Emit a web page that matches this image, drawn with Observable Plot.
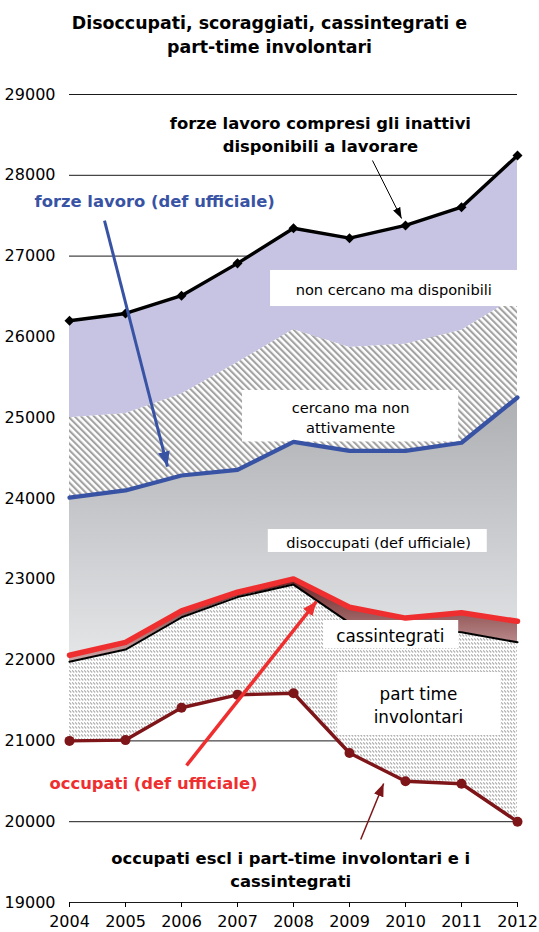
<!DOCTYPE html>
<html>
<head>
<meta charset="utf-8">
<script src="https://cdn.jsdelivr.net/npm/d3@7"></script>
<script src="https://cdn.jsdelivr.net/npm/@observablehq/plot@0.6"></script>
<style>
  html, body { margin: 0; padding: 0; background: #fff; }
  #title { height: 70px; box-sizing: border-box; padding-top: 11px; text-align: center;
    font-family: "DejaVu Sans", Verdana, sans-serif; font-weight: bold; font-size: 17.4px; line-height: 24px; color: #000; width: 539px; }
  #chart svg { display: block; }
</style>
</head>
<body>
<div id="title">Disoccupati, scoraggiati, cassintegrati e<br>part-time involontari</div>
<div id="chart"></div>
<script>
// ---- data (thousands of persons) ----
const years = [2004, 2005, 2006, 2007, 2008, 2009, 2010, 2011, 2012];
const forzeInattivi = [26200, 26290, 26510, 26910, 27345, 27222, 27380, 27605, 28245]; // forze lavoro compresi inattivi disponibili
const scoraggiatiTop = [25000, 25050, 25290, 25680, 26090, 25870, 25910, 26080, 26500]; // + cercano ma non attivamente
const forzeLavoro = [24010, 24100, 24285, 24355, 24700, 24590, 24590, 24690, 25250];   // forze lavoro (def ufficiale)
const occupati = [22060, 22220, 22610, 22840, 23005, 22655, 22520, 22585, 22480];      // occupati (def ufficiale)
const occupatiNoCig = [21980, 22130, 22530, 22780, 22935, 22460, 22390, 22345, 22220]; // occupati escl cassintegrati
const occupatiEscl = [21000, 21010, 21410, 21570, 21590, 20850, 20500, 20470, 20000];  // escl part-time involontari e cig
const yTicks = [19000, 20000, 21000, 22000, 23000, 24000, 25000, 26000, 27000, 28000, 29000];
const xTicks = years;

const data = years.map((year, i) => ({
  year, fi: forzeInattivi[i], st: scoraggiatiTop[i], fl: forzeLavoro[i],
  oc: occupati[i], onc: occupatiNoCig[i], oe: occupatiEscl[i]
}));

const BLUE = "#3953a4", RED = "#ef2f2f", DARKRED = "#7e1518";

// annotation boxes (data units)
const boxes = [
  {text: "non cercano ma disponibili", x1: 2007.59, x2: 2012, y1: 26376, y2: 26822, x: 2009.79, y: 26599, size: 14.6},
  {text: "cercano ma non\nattivamente", x1: 2007.09, x2: 2010.95, y1: 24700, y2: 25337, x: 2009.02, y: 25015, size: 14.6},
  {text: "disoccupati (def ufficiale)", x1: 2007.55, x2: 2011.46, y1: 23332, y2: 23616, x: 2009.52, y: 23474, size: 14.6},
  {text: "cassintegrati", x1: 2008.54, x2: 2010.95, y1: 22144, y2: 22490, x: 2009.73, y: 22323, size: 16.8},
  {text: "part time\ninvolontari", x1: 2008.79, x2: 2011.70, y1: 21067, y2: 21846, x: 2010.23, y: 21455, size: 16.8}
];
const notes = [
  {text: "forze lavoro compresi gli inattivi\ndisponibili a lavorare", x: 2008.48, y: 28523, color: "#000"},
  {text: "forze lavoro (def ufficiale)", x: 2005.52, y: 27700, color: BLUE},
  {text: "occupati (def ufficiale)", x: 2005.5, y: 20498, color: RED},
  {text: "occupati escl i part-time involontari e i\ncassintegrati", x: 2007.95, y: 19421, color: "#000"}
];
const arrows = [
  {x1: 2009.41, y1: 28183, x2: 2009.93, y2: 27465, color: "#000", w: 1, id: "mBlack", L: 11, W: 8},
  {x1: 2004.625, y1: 27440, x2: 2005.75, y2: 24396, color: BLUE, w: 3, id: "mBlue", L: 15, W: 12},
  {x1: 2006.09, y1: 20696, x2: 2008.41, y2: 22725, color: RED, w: 3.5, id: "mRed", L: 14, W: 12},
  {x1: 2009.2, y1: 19780, x2: 2009.61, y2: 20473, color: DARKRED, w: 1.5, id: "mDark", L: 13, W: 10}
];

const svg = Plot.plot({
  width: 539,
  height: 862,
  marginLeft: 69,
  marginRight: 22,
  marginTop: 24,
  marginBottom: 30,
  style: {fontFamily: "DejaVu Sans, Verdana, sans-serif", fontSize: "16px", background: "#fff", color: "#000"},
  x: {domain: [2004, 2012]},
  y: {domain: [19000, 29000]},
  marks: [
    Plot.gridY(yTicks, {stroke: "#1a1a1a", strokeOpacity: 1, strokeWidth: 1}),
    Plot.areaY(data, {x: "year", y1: "st", y2: "fi", fill: "#c6c4e2"}),
    Plot.areaY(data, {x: "year", y1: "fl", y2: "st", fill: "url(#hatch)"}),
    Plot.areaY(data, {x: "year", y1: "oc", y2: "fl", fill: "url(#grayGrad)"}),
    Plot.areaY(data, {x: "year", y1: "onc", y2: "oc", fill: "url(#cigGrad)"}),
    Plot.areaY(data, {x: "year", y1: "oe", y2: "onc", fill: "url(#fine)"}),
    Plot.lineY(data, {x: "year", y: "onc", stroke: "#000", strokeWidth: 2}),
    Plot.rect(boxes, {x1: "x1", x2: "x2", y1: "y1", y2: "y2", fill: "#fff"}),
    ...boxes.map(b => Plot.text([b], {x: "x", y: "y", text: "text", fontSize: b.size, lineHeight: 1.4, fill: "#000"})),
    Plot.lineY(data, {x: "year", y: "oc", stroke: RED, strokeWidth: 5.5}),
    Plot.lineY(data, {x: "year", y: "fl", stroke: BLUE, strokeWidth: 4.2}),
    Plot.lineY(data, {x: "year", y: "fi", stroke: "#000", strokeWidth: 3.4}),
    Plot.dot(data, {x: "year", y: "fi", symbol: "square", rotate: 45, r: 4, fill: "#000", stroke: "none"}),
    Plot.lineY(data, {x: "year", y: "oe", stroke: DARKRED, strokeWidth: 3.4}),
    Plot.dot(data, {x: "year", y: "oe", r: 5, fill: DARKRED, stroke: "none"}),
    ...notes.map(n => Plot.text([n], {x: "x", y: "y", text: "text", fontSize: 16.4, fontWeight: "bold", lineHeight: 1.4, fill: n.color})),
    ...arrows.map(a => Plot.link([a], {x1: "x1", y1: "y1", x2: "x2", y2: "y2", stroke: a.color, strokeWidth: a.w})),
    Plot.axisY(yTicks, {tickSize: 0, tickPadding: 14, tickFormat: d3.format("d"), fontSize: 16, label: null}),
    Plot.axisX(xTicks, {tickSize: 5, tickPadding: 8, tickFormat: d3.format("d"), fontSize: 16, label: null, stroke: "#000"})
  ]
});

const defs = d3.select(svg).insert("defs", ":first-child");
const hatch = defs.append("pattern").attr("id", "hatch").attr("patternUnits", "userSpaceOnUse")
  .attr("width", 4.6).attr("height", 4.6).attr("patternTransform", "rotate(-45)");
hatch.append("rect").attr("width", 4.6).attr("height", 4.6).attr("fill", "#fff");
hatch.append("rect").attr("width", 2.1).attr("height", 4.6).attr("fill", "#a2a2a2");

const fine = defs.append("pattern").attr("id", "fine").attr("patternUnits", "userSpaceOnUse")
  .attr("width", 3).attr("height", 4);
fine.append("rect").attr("width", 3).attr("height", 4).attr("fill", "#fff");
fine.append("path").attr("d", "M0,0.3 L2.2,2.5").attr("stroke", "#adadad").attr("stroke-width", 1.1);

const gg = defs.append("linearGradient").attr("id", "grayGrad").attr("x1", 0).attr("y1", 0).attr("x2", 0).attr("y2", 1);
gg.append("stop").attr("offset", "0%").attr("stop-color", "#adafb3");
gg.append("stop").attr("offset", "100%").attr("stop-color", "#e4e5e7");

const cg = defs.append("linearGradient").attr("id", "cigGrad").attr("x1", 0).attr("y1", 0).attr("x2", 0).attr("y2", 1);
cg.append("stop").attr("offset", "0%").attr("stop-color", "#6c2224");
cg.append("stop").attr("offset", "100%").attr("stop-color", "#cfa7a7");

// filled triangular arrow heads
arrows.forEach(a => {
  const m = defs.append("marker").attr("id", a.id).attr("markerUnits", "userSpaceOnUse")
    .attr("viewBox", `0 0 ${a.L} ${a.W}`).attr("markerWidth", a.L).attr("markerHeight", a.W)
    .attr("refX", a.L).attr("refY", a.W / 2).attr("orient", "auto");
  m.append("path").attr("d", `M0,0 L${a.L},${a.W / 2} L0,${a.W} Z`).attr("fill", a.color);
});
d3.select(svg).selectAll('g[aria-label="link"]').each(function (_, i) {
  d3.select(this).selectAll("path").attr("marker-end", `url(#${arrows[i].id})`);
});

document.getElementById("chart").appendChild(svg);
</script>
</body>
</html>
